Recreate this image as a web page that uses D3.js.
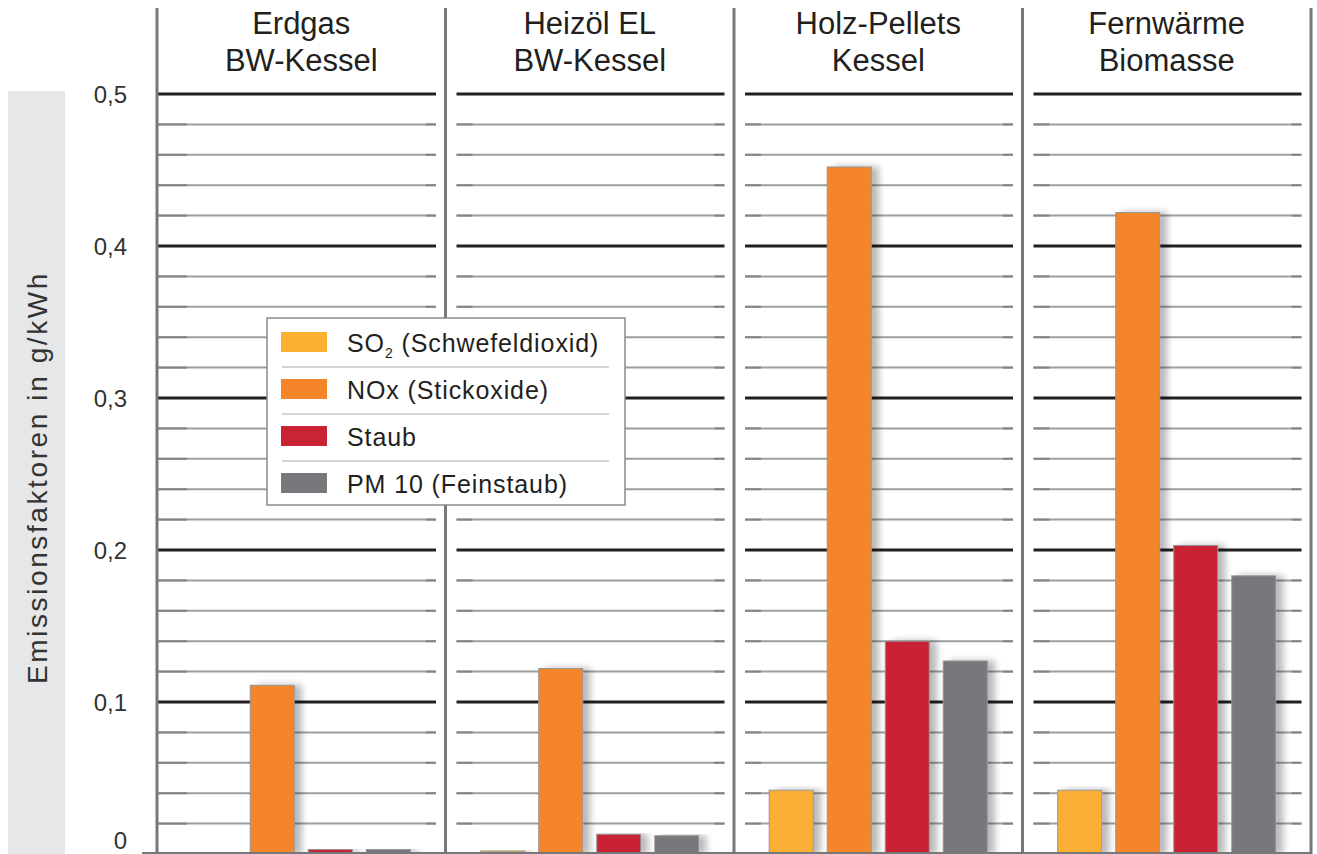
<!DOCTYPE html>
<html><head><meta charset="utf-8">
<script src="https://cdn.jsdelivr.net/npm/d3@7"></script>
<style>
html,body{margin:0;padding:0;background:#fff;}
svg{display:block;font-family:"Liberation Sans",Arial,sans-serif;}
</style></head>
<body><svg id="chart" width="1317" height="854"></svg>
<script>
const categories = [["Erdgas","BW-Kessel"],["Heizöl EL","BW-Kessel"],["Holz-Pellets","Kessel"],["Fernwärme","Biomasse"]];
const seriesNames = ["SO2 (Schwefeldioxid)","NOx (Stickoxide)","Staub","PM 10 (Feinstaub)"];
const so2   = [0.001, 0.002, 0.042, 0.042];
const nox   = [0.111, 0.122, 0.452, 0.422];
const staub = [0.003, 0.013, 0.140, 0.203];
const pm10  = [0.003, 0.012, 0.127, 0.183];
const yTicks = [0, 0.1, 0.2, 0.3, 0.4, 0.5];
const colors = ["#fbb034","#f58529","#c92434","#77787b"];
const yTitle = "Emissionsfaktoren in g/kWh";

const values = [so2, nox, staub, pm10];
const svg = d3.select("#chart");
const W = 1317, H = 854;
const catKeys = categories.map(c => c.join(" "));

const x0 = d3.scaleBand().domain(catKeys).range([157, 1311]).paddingInner(0).paddingOuter(0);
const x1 = d3.scaleBand().domain(seriesNames).range([0, x0.bandwidth()]).paddingInner(0.241).paddingOuter(0.607);
const y = d3.scaleLinear().domain([0, 0.5]).range([854, 94]);

// shadow filter
const defs = svg.append("defs");
const f = defs.append("filter").attr("id","sh").attr("x","-20%").attr("y","-5%").attr("width","160%").attr("height","110%");
f.append("feGaussianBlur").attr("in","SourceAlpha").attr("stdDeviation",3.5).attr("result","b");
f.append("feOffset").attr("in","b").attr("dx",7).attr("dy",0).attr("result","o");
f.append("feComponentTransfer").attr("in","o").attr("result","t")
  .append("feFuncA").attr("type","linear").attr("slope",0.28);
const m = f.append("feMerge");
m.append("feMergeNode").attr("in","t");
m.append("feMergeNode").attr("in","SourceGraphic");

// grey band behind y-title
svg.append("rect").attr("x",8).attr("y",91).attr("width",57).attr("height",H-91).attr("fill","#e6e7e8");
svg.append("text").attr("transform","translate(47,"+((268+687)/2)+") rotate(-90)")
  .attr("text-anchor","middle").attr("font-size",28).attr("letter-spacing",2.6).attr("fill","#333")
  .text(yTitle);

// gridlines (every 0.02, major every 0.1)
const gridVals = d3.range(1, 26).map(i => i * 2 / 100);
catKeys.forEach((k, i) => {
  const px = x0(k);
  const gx1 = i === 0 ? px : px + 11;
  const gx2 = px + 279;
  const g = svg.append("g");
  gridVals.forEach(v => {
    const isMajor = Math.abs(v * 10 - Math.round(v * 10)) < 1e-9;
    if (isMajor) {
      g.append("line").attr("x1",gx1).attr("x2",gx2).attr("y1",y(v)).attr("y2",y(v))
        .attr("stroke","#231f20").attr("stroke-width",3);
    } else {
      g.append("line").attr("x1",gx1).attr("x2",gx2).attr("y1",y(v)).attr("y2",y(v))
        .attr("stroke","#9d9ea0").attr("stroke-width",2);
      g.append("line").attr("x1",gx1).attr("x2",gx1 + (i===0?30:16)).attr("y1",y(v)).attr("y2",y(v))
        .attr("stroke","#838487").attr("stroke-width",2);
      g.append("line").attr("x1",gx2 - 10).attr("x2",gx2).attr("y1",y(v)).attr("y2",y(v))
        .attr("stroke","#838487").attr("stroke-width",2);
    }
  });
});

// bars
catKeys.forEach((k, i) => {
  const g = svg.append("g").attr("transform","translate("+x0(k)+",0)");
  g.selectAll("rect").data(seriesNames.map((s, j) => ({s, v: values[j][i], c: colors[j]})))
    .join("rect")
    .attr("x", d => x1(d.s)).attr("width", x1.bandwidth())
    .attr("y", d => y(d.v)).attr("height", d => y(0) - y(d.v))
    .attr("fill", d => d.c).attr("stroke","#939598").attr("stroke-width",1)
    .attr("filter","url(#sh)");
});

// bottom axis line
svg.append("line").attr("x1",142).attr("x2",1311).attr("y1",853).attr("y2",853)
  .attr("stroke","#77787b").attr("stroke-width",2);

// panel dividers
const dividers = catKeys.map(k => x0(k)).concat([x0.range()[1]]);
svg.selectAll(".div").data(dividers).join("line")
  .attr("x1", d => d).attr("x2", d => d).attr("y1", 8).attr("y2", H)
  .attr("stroke","#77787b").attr("stroke-width",3);

// y tick labels
const fmt = v => v === 0 ? "0" : d3.format(".1f")(v).replace(".", ",");
svg.selectAll(".yl").data(yTicks).join("text")
  .attr("x",127).attr("y", d => d === 0 ? y(d) - 5 : y(d)).attr("dy", d => d === 0 ? "0" : "0.36em").attr("text-anchor","end")
  .attr("font-size",24).attr("fill","#333").text(fmt);

// category titles
categories.forEach((c, i) => {
  const cx = x0(catKeys[i]) + x0.bandwidth() / 2;
  const t = svg.append("text").attr("text-anchor","middle").attr("font-size",31).attr("fill","#231f20");
  t.append("tspan").attr("x",cx).attr("y",34).text(c[0]);
  t.append("tspan").attr("x",cx).attr("y",71).text(c[1]);
});

// legend
const lg = svg.append("g");
lg.append("rect").attr("x",267).attr("y",318).attr("width",358).attr("height",187)
  .attr("fill","#fff").attr("stroke","#8a8b8d").attr("stroke-width",1.5);
seriesNames.forEach((s, j) => {
  const ry = 332 + j * 47;
  lg.append("rect").attr("x",281).attr("y",ry).attr("width",46).attr("height",20).attr("fill",colors[j]);
  const t = lg.append("text").attr("x",347).attr("y",ry + 20).attr("font-size",25).attr("letter-spacing",0.9).attr("fill","#231f20");
  if (j === 0) {
    t.append("tspan").text("SO");
    t.append("tspan").attr("font-size",14).attr("dy",6).text("2");
    t.append("tspan").attr("dy",-6).text(" (Schwefeldioxid)");
  } else {
    t.text(s);
  }
  if (j < 3) {
    lg.append("line").attr("x1",282).attr("x2",609).attr("y1",ry + 35).attr("y2",ry + 35)
      .attr("stroke","#a7a8aa").attr("stroke-width",1);
  }
});
</script></body></html>
